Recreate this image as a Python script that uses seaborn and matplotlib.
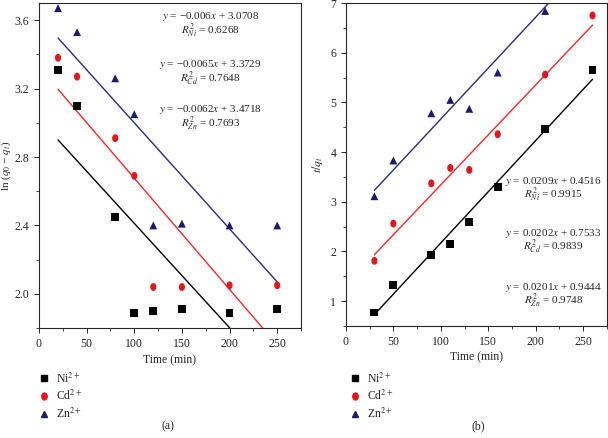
import numpy as np
import pandas as pd
import seaborn as sns
import matplotlib.pyplot as plt
from matplotlib.ticker import MultipleLocator
from matplotlib.lines import Line2D
from matplotlib.path import Path

ions = ["Ni", "Cd", "Zn"]

# (a) pseudo first order
time_a = [20, 40, 80, 100, 120, 150, 200, 250]
ni_a = [3.31, 3.10, 2.45, 1.89, 1.90, 1.91, 1.89, 1.91]
cd_a = [3.38, 3.27, 2.91, 2.69, 2.04, 2.04, 2.05, 2.05]
zn_a = [3.67, 3.53, 3.26, 3.05, 2.40, 2.41, 2.40, 2.40]
slope_a = [-0.0061, -0.0065, -0.0062]
icept_a = [3.022, 3.326, 3.620]
eq_a = ["$y$ = \u22120.006$x$ + 3.0708", "$y$ = \u22120.0065$x$ + 3.3729", "$y$ = \u22120.0062$x$ + 3.4718"]
r2_a = ["$R^2_{Ni}$ = 0.6268", "$R^2_{Cd}$ = 0.7648", "$R^2_{Zn}$ = 0.7693"]
eq_pos_a = [3.622, 3.34, 3.08]

# (b) pseudo second order
time_b = [30, 50, 90, 110, 130, 160, 210, 260]
ni_b = [0.77, 1.32, 1.93, 2.14, 2.60, 3.29, 4.46, 5.65]
cd_b = [1.81, 2.56, 3.37, 3.68, 3.64, 4.36, 5.56, 6.75]
zn_b = [3.11, 3.83, 4.78, 5.05, 4.87, 5.60, 6.84]
slope_b = [0.0206, 0.0201, 0.0205]
icept_b = [0.11, 1.33, 2.615]
eq_b = ["$y$ = 0.0209$x$ + 0.4516", "$y$ = 0.0202$x$ + 0.7533", "$y$ = 0.0201$x$ + 0.9444"]
r2_b = ["$R^2_{Ni}$ = 0.9915", "$R^2_{Cd}$ = 0.9839", "$R^2_{Zn}$ = 0.9748"]
eq_pos_b = [3.41, 2.36, 1.28]

colors = {"Ni": "black", "Cd": "#e3171b", "Zn": "#1b1b6b"}
line_colors = {"Ni": "black", "Cd": "#f0282a", "Zn": "#2b2b80"}

# slightly tall ellipse, the circles in the figure are squeezed
ang = np.linspace(0, 2 * np.pi, 40)
ellipse = Path(np.column_stack([0.78 * np.cos(ang), np.sin(ang)]), closed=True)
markers = {"Ni": "s", "Cd": ellipse, "Zn": "^"}

sns.set_style("ticks")
plt.rcParams['font.family'] = ['Liberation Serif', 'DejaVu Serif']
plt.rcParams['mathtext.fontset'] = 'stix'
plt.rcParams['font.size'] = 8.5


def points_frame(t, series):
    rows = []
    for ion, vals in zip(ions, series):
        for x, y in zip(t, vals):
            rows.append({"ion": ion, "t": x, "v": y})
    return pd.DataFrame(rows)


def fit_frame(x0, x1, slopes, icepts):
    xs = np.linspace(x0, x1, 50)
    rows = []
    for ion, m, b in zip(ions, slopes, icepts):
        for x in xs:
            rows.append({"ion": ion, "t": x, "v": m * x + b})
    return pd.DataFrame(rows)


def panel(ax, pts, fits):
    sns.lineplot(data=fits, x="t", y="v", hue="ion", palette=line_colors, legend=False, lw=1, ax=ax)
    sns.scatterplot(data=pts, x="t", y="v", hue="ion", style="ion", palette=colors,
                    markers=markers, s=32, linewidth=0, legend=False, ax=ax, zorder=3)
    ax.set_xlim(0, 275)
    ax.xaxis.set_major_locator(MultipleLocator(50))
    ax.xaxis.set_minor_locator(MultipleLocator(25))
    ax.set_xlabel("Time (min)", labelpad=3)
    for s in ax.spines.values():
        s.set_linewidth(0.8)
    ax.tick_params(which="major", length=3.5, width=0.7)
    ax.tick_params(which="minor", length=2, width=0.6)


fig = plt.figure(figsize=(6.08, 4.38), dpi=100)
ax1 = fig.add_axes([0.0641, 0.251, 0.431, 0.742])
ax2 = fig.add_axes([0.569, 0.256, 0.429, 0.737])

pa = points_frame(time_a, [ni_a, cd_a, zn_a])
panel(ax1, pa, fit_frame(20, 250, slope_a, icept_a))
ax1.set_ylim(1.8, 3.7)
ax1.yaxis.set_major_locator(MultipleLocator(0.4))
ax1.yaxis.set_minor_locator(MultipleLocator(0.2))
ax1.set_yticks([2.0, 2.4, 2.8, 3.2, 3.6])
ax1.set_ylabel("ln ($q_0$ \u2212 $q_t$)", fontsize=8)
ax1.yaxis.set_label_coords(-0.098, 0.5)
for eq, r2, y in zip(eq_a, r2_a, eq_pos_a):
    ax1.text(180, y, eq, ha="center", va="center", fontsize=8)
    ax1.text(180, y - 0.085, r2, ha="center", va="center", fontsize=8)

pts_b = points_frame(time_b, [ni_b, cd_b, zn_b + [np.nan]])
pts_b = pts_b.dropna()
panel(ax2, pts_b, fit_frame(30, 260, slope_b, icept_b))
ax2.set_ylim(0.5, 7)
ax2.yaxis.set_major_locator(MultipleLocator(1))
ax2.yaxis.set_minor_locator(MultipleLocator(0.5))
ax2.set_ylabel("$t/q_t$", labelpad=4)
for eq, r2, y in zip(eq_b, r2_b, eq_pos_b):
    ax2.text(219, y, eq, ha="center", va="center", fontsize=8)
    ax2.text(219, y - 0.28, r2, ha="center", va="center", fontsize=8)

handles = [Line2D([], [], ls="", marker=markers[i], color=colors[i], markersize=5) for i in ions]
labels = ["Ni$^{2+}$", "Cd$^{2+}$", "Zn$^{2+}$"]
for x in [0.055, 0.567]:
    fig.legend(handles, labels, loc="upper left", bbox_to_anchor=(x, 0.163), frameon=False,
               handlelength=1, handletextpad=0.5, labelspacing=0.3, borderaxespad=0)

fig.text(0.277, 0.014, "(a)", ha="center", va="bottom")
fig.text(0.786, 0.014, "(b)", ha="center", va="bottom")

fig.savefig("out.png", dpi=100)
